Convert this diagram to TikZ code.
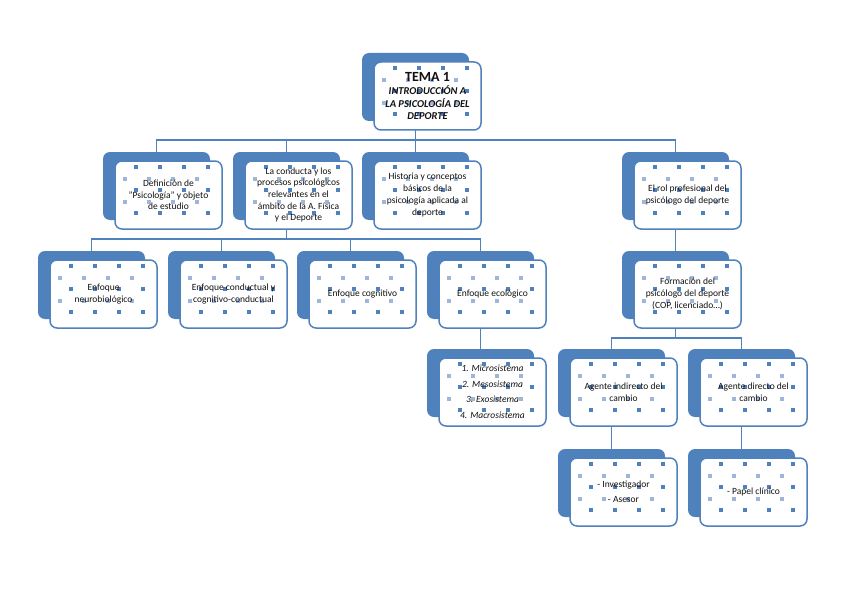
\documentclass[tikz,border=0pt]{standalone}
\usepackage{fontspec}
\setmainfont{Carlito}
\definecolor{ob}{HTML}{4F81BD}
\definecolor{obl}{HTML}{9DB6DA}
\definecolor{txt}{HTML}{111111}
\tikzset{
  backbox/.style={fill=ob, draw=none, rounded corners=7pt, minimum width=107pt,
    minimum height=68pt, anchor=north west, inner sep=0pt, outer sep=0pt},
  frontbox/.style={draw=ob, line width=1.5pt, fill=white, rounded corners=7pt,
    minimum width=107pt, minimum height=68pt, anchor=north west, inner sep=1pt,
    outer sep=0pt, align=center, text=txt, font=\fontsize{9.5}{11.7}\selectfont,
    path picture={
      \foreach \i in {0,1,2,3}{
        \foreach \j in {0,1,2}{
          \fill[ob, sharp corners] ([shift={(19+24*\i,4+23*\j)}]path picture bounding box.north west) rectangle ++(4,4);}
        \foreach \j in {0,1}{
          \fill[obl, sharp corners] ([shift={(8+24*\i,16+23*\j)}]path picture bounding box.north west) rectangle ++(4,4);}
      }
    }},
  conn/.style={draw=ob, line width=1.4pt}
}
\begin{document}
\begin{tikzpicture}[x=1pt,y=-1pt]
\useasboundingbox (0,0) rectangle (848,599);
% title
\node[backbox] (Tb) at (362,53) {};
\node[frontbox, font=\bfseries\itshape\fontsize{10.5}{12.5}\selectfont] (T) at (374,62)
  {{\upshape\fontsize{14}{16}\selectfont TEMA 1}\\[1pt]INTRODUCCIÓN A\\LA PSICOLOGÍA DEL\\DEPORTE};
% level 1
\node[backbox] (Db) at (103,152) {};
\node[frontbox] (D) at (115,161) {Definición de\\"Psicología" y objeto\\de estudio};
\node[backbox] (Cb) at (233,152) {};
\node[frontbox] (C) at (245,161) {La conducta y los\\procesos psicológicos\\relevantes en el\\ámbito de la A. Física\\y el Deporte};
\node[backbox] (Hb) at (362,152) {};
\node[frontbox] (H) at (374,161) {Historia y conceptos\\básicos de la\\psicología aplicada al\\deporte};
\node[backbox] (Rb) at (622,152) {};
\node[frontbox] (R) at (634,161) {El rol profesional del\\psicólogo del deporte};
% level 2
\node[backbox] (Nb) at (38,251) {};
\node[frontbox] (N) at (50,260) {Enfoque\\neurobiológico};
\node[backbox] (Kb) at (168,251) {};
\node[frontbox] (K) at (180,260) {Enfoque conductual y\\cognitivo-conductual};
\node[backbox] (Gb) at (297,251) {};
\node[frontbox] (G) at (309,260) {Enfoque cognitivo};
\node[backbox] (Eb) at (427,251) {};
\node[frontbox] (E) at (439,260) {Enfoque ecológico};
\node[backbox] (Fb) at (622,251) {};
\node[frontbox] (F) at (634,260) {Formación del\\psicólogo del deporte\\(COP, licenciado…)};
% level 3
\node[backbox] (Mb) at (427,349) {};
\node[frontbox, font=\itshape\fontsize{9.5}{11.7}\selectfont] (M) at (439,358)
  {1. Microsistema\\[3.8pt]2. Mesosistema\\[3.8pt]3. Exosistema\\[3.8pt]4. Macrosistema};
\node[backbox] (AIb) at (558,349) {};
\node[frontbox] (AI) at (570,358) {Agente indirecto del\\cambio};
\node[backbox] (ADb) at (688,349) {};
\node[frontbox] (AD) at (700,358) {Agente directo del\\cambio};
% level 4
\node[backbox] (Ib) at (558,449) {};
\node[frontbox] (I) at (570,458) {- Investigador\\[3.5pt]- Asesor};
\node[backbox] (Pb) at (688,449) {};
\node[frontbox] (P) at (700,458) {- Papel clínico};
% connectors
\coordinate (j1) at (415.5,140);
\draw[conn] (Tb |- T.south) -- (j1);
\draw[conn] (Db.north) |- (j1) -| (Rb.north);
\draw[conn] (Cb.north) -- (Cb.north |- j1);
\draw[conn] (Hb.north) -- (Hb.north |- j1);
\coordinate (j2) at (286.5,239);
\draw[conn] (Cb |- C.south) -- (j2);
\draw[conn] (Nb.north) |- (j2) -| (Eb.north);
\draw[conn] (Kb.north) -- (Kb.north |- j2);
\draw[conn] (Gb.north) -- (Gb.north |- j2);
\draw[conn] (Rb |- R.south) -- (Fb.north);
\coordinate (j3) at (675.5,338);
\draw[conn] (Fb |- F.south) -- (j3);
\draw[conn] (AIb.north) |- (j3) -| (ADb.north);
\draw[conn] (Eb |- E.south) -- (Mb.north);
\draw[conn] (AIb |- AI.south) -- (Ib.north);
\draw[conn] (ADb |- AD.south) -- (Pb.north);
\end{tikzpicture}
\end{document}
